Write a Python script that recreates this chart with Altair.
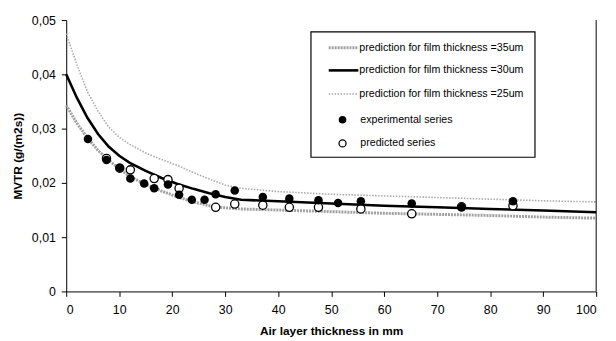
import altair as alt
import pandas as pd

# ---------------- data ----------------
x_curve = [0, 2, 4, 6, 8, 10, 12, 15, 18, 21, 24, 27, 30, 33, 40, 50, 60, 70, 80, 90, 100]
mvtr_35 = [0.0343, 0.0310, 0.0283, 0.0260, 0.0242, 0.0226, 0.0212, 0.0197, 0.0185, 0.0174, 0.0165,
           0.0158, 0.0154, 0.0152, 0.0150, 0.0147, 0.0144, 0.0142, 0.0140, 0.0137, 0.0135]
mvtr_30 = [0.0400, 0.0357, 0.0320, 0.0290, 0.0267, 0.0250, 0.0237, 0.0222, 0.0209, 0.0198, 0.0189,
           0.0181, 0.0174, 0.0169, 0.0166, 0.0162, 0.0158, 0.0155, 0.0152, 0.0149, 0.0146]
mvtr_25 = [0.0475, 0.0418, 0.0368, 0.0332, 0.0303, 0.0284, 0.0271, 0.0255, 0.0243, 0.0232, 0.0219,
           0.0207, 0.0196, 0.0190, 0.0184, 0.0179, 0.0176, 0.0173, 0.0170, 0.0167, 0.0165]

exp_x = [4.1, 7.6, 10.1, 12.1, 14.7, 16.6, 19.2, 21.3, 23.7, 26.1, 28.2, 31.8, 37.1, 42.1, 47.6,
         51.3, 55.6, 65.2, 74.6, 84.3]
exp_y = [0.0281, 0.0242, 0.0228, 0.0208, 0.0199, 0.0190, 0.0197, 0.0178, 0.0169, 0.0169, 0.0179,
         0.0186, 0.0174, 0.0171, 0.0168, 0.0163, 0.0166, 0.0162, 0.0155, 0.0166]

pred_x = [7.6, 10.1, 12.1, 16.6, 19.2, 21.3, 28.2, 31.8, 37.1, 42.1, 47.6, 55.6, 65.2, 74.6, 84.3]
pred_y = [0.0245, 0.0227, 0.0224, 0.0208, 0.0206, 0.0190, 0.0155, 0.0161, 0.0159, 0.0155, 0.0155,
          0.0152, 0.0143, 0.0156, 0.0158]

legend_labels = [
    "prediction for film thickness =35um",
    "prediction for film thickness =30um",
    "prediction for film thickness =25um",
    "experimental series",
    "predicted series",
]

W, H = 537, 275
FONT = "Liberation Sans"

xs = alt.Scale(domain=[0, 100], nice=False)
ys = alt.Scale(domain=[0, 0.05], nice=False)

x_axis = alt.Axis(values=list(range(0, 101, 10)), title="Air layer thickness in mm",
                  grid=False, labelPadding=7, titlePadding=10)
y_axis = alt.Axis(values=[0, 0.01, 0.02, 0.03, 0.04, 0.05], title="MVTR (g/(m2s))", grid=False,
                  labelExpr="datum.value == 0 ? '0' : replace(format(datum.value, '.2f'), '.', ',')",
                  labelPadding=6, titlePadding=7)

curve_df = pd.DataFrame({"x": x_curve, "y35": mvtr_35, "y30": mvtr_30, "y25": mvtr_25})
exp_df = pd.DataFrame({"x": exp_x, "y": exp_y})
pred_df = pd.DataFrame({"x": pred_x, "y": pred_y})

base = alt.Chart(curve_df)

line35 = base.mark_line(color="#a0a0a0", strokeWidth=3.0, strokeDash=[2, 1]).encode(
    x=alt.X("x:Q", scale=xs, axis=x_axis), y=alt.Y("y35:Q", scale=ys, axis=y_axis))
line25 = base.mark_line(color="#a8a8a8", strokeWidth=1.6, strokeDash=[1.5, 1.5]).encode(
    x=alt.X("x:Q", scale=xs), y=alt.Y("y25:Q", scale=ys))
line30 = base.mark_line(color="black", strokeWidth=2.6).encode(
    x=alt.X("x:Q", scale=xs), y=alt.Y("y30:Q", scale=ys))

pred_pts = alt.Chart(pred_df).mark_point(shape="circle", filled=True, fill="white", stroke="black",
                                         strokeWidth=1.3, size=70, opacity=1).encode(
    x=alt.X("x:Q", scale=xs), y=alt.Y("y:Q", scale=ys))
exp_pts = alt.Chart(exp_df).mark_point(shape="circle", filled=True, color="black", size=75,
                                       opacity=1).encode(
    x=alt.X("x:Q", scale=xs), y=alt.Y("y:Q", scale=ys))

one = alt.Data(values=[{}])

right_border = alt.Chart(one).mark_rule(color="black", strokeWidth=1).encode(
    x=alt.value(W), y=alt.value(0), y2=alt.value(H))

# ---- legend box ----
LX1, LX2, LY1, LY2 = 248, 475, 12, 139
rows = [28, 51, 75, 101, 125]
legend_box = alt.Chart(one).mark_rect(fill="white", stroke="black", strokeWidth=1.2).encode(
    x=alt.value(LX1), x2=alt.value(LX2), y=alt.value(LY1), y2=alt.value(LY2))

leg_layers = [legend_box]
line_styles = [
    dict(color="#a0a0a0", strokeWidth=3.0, strokeDash=[2, 1]),
    dict(color="black", strokeWidth=2.6),
    dict(color="#a8a8a8", strokeWidth=1.6, strokeDash=[1.5, 1.5]),
]
for i, st in enumerate(line_styles):
    leg_layers.append(alt.Chart(one).mark_rule(**st).encode(
        x=alt.value(266), x2=alt.value(296), y=alt.value(rows[i])))
leg_layers.append(alt.Chart(one).mark_point(shape="circle", filled=True, color="black", size=60,
                                            opacity=1).encode(
    x=alt.value(280), y=alt.value(rows[3])))
leg_layers.append(alt.Chart(one).mark_point(shape="circle", filled=True, fill="white", stroke="black",
                                            strokeWidth=1.3, size=50, opacity=1).encode(
    x=alt.value(280), y=alt.value(rows[4])))
for i, lab in enumerate(legend_labels):
    tx = 297 if i < 3 else 298
    leg_layers.append(alt.Chart(one).mark_text(align="left", baseline="middle", font=FONT,
                                               fontSize=10.8, color="black").encode(
        x=alt.value(tx), y=alt.value(rows[i]), text=alt.value(lab)))

chart = alt.layer(line35, line25, line30, pred_pts, exp_pts, right_border, *leg_layers).properties(
    width=W, height=H,
    background="white",
    autosize=alt.AutoSizeParams(type="none"),
    padding={"left": 59, "top": 10, "right": 12, "bottom": 48},
).configure_view(stroke=None).configure_axis(
    domainColor="black", tickColor="black", tickSize=5, labelColor="black", titleColor="black",
    labelFont=FONT, labelFontSize=12.5, titleFont=FONT, titleFontSize=12, titleFontWeight="bold",
)

chart.save("out.html", embed_options={"renderer": "svg", "actions": False})
